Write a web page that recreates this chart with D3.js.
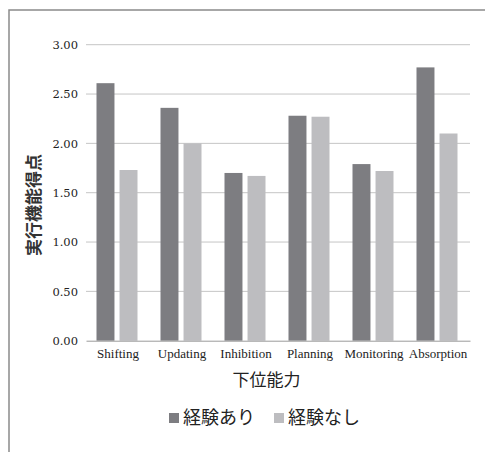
<!DOCTYPE html>
<html>
<head>
<meta charset="utf-8">
<script src="https://cdn.jsdelivr.net/npm/d3@7"></script>
<style>
  html, body { margin: 0; padding: 0; background: #fff; }
  svg { display: block; }
  .yaxis text { font-family: "DejaVu Serif", serif; font-size: 11.5px; }
  .xaxis text { font-family: "Liberation Serif", serif; font-size: 13px; }
</style>
</head>
<body>
<svg id="chart" width="485" height="452"></svg>
<script>
// Sub-ability categories and group scores
const categories = ["Shifting", "Updating", "Inhibition", "Planning", "Monitoring", "Absorption"];
const seriesNames = ["経験あり", "経験なし"];
const withExperience = [2.61, 2.36, 1.70, 2.28, 1.79, 2.77];
const withoutExperience = [1.73, 2.00, 1.67, 2.27, 1.72, 2.10];
const yTicks = [0, 0.5, 1.0, 1.5, 2.0, 2.5, 3.0];
const colors = ["#7d7d81", "#bdbdc0"];

const svg = d3.select("#chart");

// outer frame
svg.append("rect")
  .attr("x", 9).attr("y", 10)
  .attr("width", 500).attr("height", 500)
  .attr("fill", "none")
  .attr("stroke", "#8a8a8a")
  .attr("stroke-width", 1.5);

const plotLeft = 86, plotRight = 470, plotTop = 44.7, plotBottom = 340.7;

const x0 = d3.scaleBand().domain(categories).range([plotLeft, plotRight]);
const x1 = d3.scaleBand().domain(seriesNames).range([10.5, 51.5]).paddingInner(0.22);
const y = d3.scaleLinear().domain([0, 3]).range([plotBottom, plotTop]);

// horizontal gridlines
svg.append("g")
  .selectAll("line")
  .data(yTicks.filter(d => d > 0))
  .join("line")
  .attr("x1", plotLeft).attr("x2", plotRight)
  .attr("y1", d => y(d)).attr("y2", d => y(d))
  .attr("stroke", "#c6c6c6")
  .attr("stroke-width", 1);

// y axis labels
const yAxis = d3.axisLeft(y).tickValues(yTicks).tickFormat(d3.format(".2f")).tickSize(0).tickPadding(8);
const gy = svg.append("g").attr("class", "yaxis").attr("transform", `translate(${plotLeft},0)`).call(yAxis);
gy.attr("font-family", null).attr("font-size", null);
gy.select(".domain").remove();
gy.selectAll("text").attr("fill", "#222");

// bars
const rows = categories.map((c, i) => ({ cat: c, vals: [withExperience[i], withoutExperience[i]] }));
const groups = svg.append("g").selectAll("g")
  .data(rows)
  .join("g")
  .attr("transform", d => `translate(${x0(d.cat)},0)`);

groups.selectAll("rect")
  .data(d => d.vals.map((v, j) => ({ name: seriesNames[j], v, j })))
  .join("rect")
  .attr("x", d => x1(d.name))
  .attr("width", x1.bandwidth())
  .attr("y", d => y(d.v))
  .attr("height", d => y(0) - y(d.v))
  .attr("fill", d => colors[d.j]);

// category axis
const xAxis = d3.axisBottom(x0).tickSize(0).tickPadding(8);
const gx = svg.append("g").attr("class", "xaxis").attr("transform", `translate(0,${plotBottom})`).call(xAxis);
gx.attr("font-family", null).attr("font-size", null);
gx.select(".domain").attr("stroke", "#9a9a9a").attr("stroke-width", 1);
gx.selectAll("text").attr("fill", "#222");

const jp = "'Noto Sans CJK JP', 'Noto Sans', sans-serif";

// axis titles
svg.append("text")
  .attr("transform", "translate(40,205) rotate(-90)")
  .attr("text-anchor", "middle")
  .style("font-family", jp)
  .style("font-size", "17px")
  .style("font-weight", 700)
  .attr("fill", "#333")
  .text("実行機能得点");

svg.append("text")
  .attr("x", 266.5).attr("y", 386)
  .attr("text-anchor", "middle")
  .style("font-family", jp)
  .style("font-size", "17px")
  .attr("fill", "#222")
  .text("下位能力");

// legend
const legendItems = [
  { name: seriesNames[0], color: colors[0], x: 169 },
  { name: seriesNames[1], color: colors[1], x: 274 }
];
const lg = svg.append("g").selectAll("g").data(legendItems).join("g")
  .attr("transform", d => `translate(${d.x},413)`);
lg.append("rect").attr("width", 10).attr("height", 10).attr("fill", d => d.color);
lg.append("text")
  .attr("x", 14).attr("y", 11)
  .style("font-family", jp)
  .style("font-size", "18px")
  .attr("fill", "#222")
  .text(d => d.name);
</script>
</body>
</html>
